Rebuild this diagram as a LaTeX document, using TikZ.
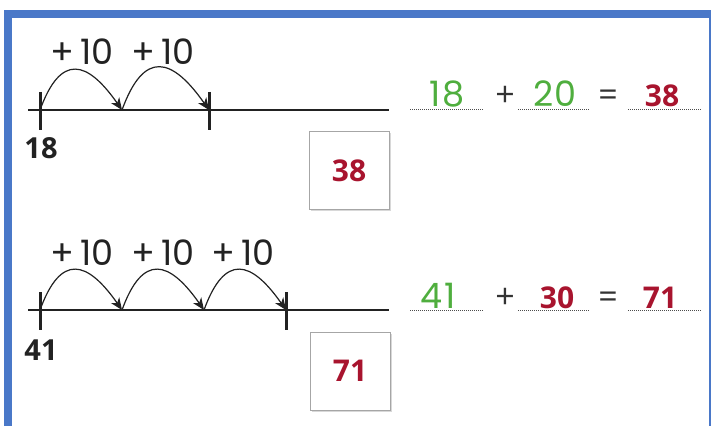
\documentclass[tikz,border=0pt]{standalone}
\usepackage{fontspec}
\setmainfont{Open Sans}
\newfontfamily\hand{Poppins}
\newfontfamily\handsp{Poppins}[LetterSpace=5]
\usetikzlibrary{arrows.meta,shadows}
\definecolor{bblue}{HTML}{4A78C8}
\definecolor{ggreen}{HTML}{4FAE3E}
\definecolor{rred}{HTML}{A8142E}
\definecolor{ink}{HTML}{222222}
\begin{document}
\begin{tikzpicture}[x=1pt,y=1pt,
  nline/.style={line width=2.4pt, ink},
  tickmark/.style={line width=3pt, ink},
  jump/.style={line width=1.2pt, ink, -{Stealth[length=12pt,width=10pt,inset=3.5pt]}, out=70, in=125, looseness=1.9},
  jl/.style={font=\hand\fontsize{35}{35}\selectfont, inner sep=0pt, text=ink},
  startnum/.style={font=\bfseries\fontsize{29}{29}\selectfont, inner sep=0pt, text=ink},
  ansbox/.style={draw=black!35, line width=1pt, fill=white, minimum width=80pt, minimum height=78pt,
     drop shadow={opacity=0.3, shadow xshift=1.5pt, shadow yshift=-1.5pt},
     font=\bfseries\fontsize{30}{30}\selectfont, text=rred},
  gnum/.style={font=\handsp\fontsize{35}{35}\selectfont, text=ggreen, inner sep=0pt, anchor=base},
  rnum/.style={font=\bfseries\fontsize{30}{30}\selectfont, text=rred, inner sep=0pt, anchor=base},
  op/.style={font=\fontsize{34}{34}\selectfont, text=black!80, inner sep=0pt, anchor=base},
  dotline/.style={line width=1pt, black!70, dash pattern=on 1pt off 1pt},
]
\useasboundingbox (0,0) rectangle (711,426);
\fill[white] (0,0) rectangle (711,426);
% blue frame
\fill[bblue] (4,416) rectangle (711,408);
\fill[bblue] (4,0) rectangle (12,416);
\fill[bblue] (709,0) rectangle (711,416);

% ---------- row 1 ----------
\coordinate (l1s) at (28,316);
\coordinate (l1e) at (389,316);
\coordinate (a0) at (40,316);
\coordinate (a1) at (122,316);
\coordinate (a2) at (209,316);
\draw[nline] (l1s) -- (l1e);
\draw[tickmark] (40,334) -- (40,296);
\draw[tickmark] (209,334) -- (209,296);
\draw[jump] (a0) to (a1);
\draw[jump] (a1) to (a2);
\node[jl] (j1a) at (82,374) {+\,10};
\node[jl] (j1b) at (163,374) {+\,10};
\node[startnum] (s1) at (41,278) {18};
\node[ansbox] (box1) at (349,255) {38};

\node[gnum] (e1a) at (447,319) {18};
\node[op] (p1) at (505,319) {+};
\node[gnum] (e1b) at (555,319) {20};
\node[op] (q1) at (608,319) {=};
\node[rnum] (e1c) at (662,319) {38};
\draw[dotline] (410,316) -- (483,316);
\draw[dotline] (518,316) -- (590,316);
\draw[dotline] (628,316) -- (702,316);

% ---------- row 2 ----------
\coordinate (l2s) at (28,116);
\coordinate (l2e) at (389,116);
\coordinate (b0) at (40,116);
\coordinate (b1) at (122,116);
\coordinate (b2) at (204,116);
\coordinate (b3) at (286,116);
\draw[nline] (l2s) -- (l2e);
\draw[tickmark] (40,134) -- (40,96);
\draw[tickmark] (286,134) -- (286,96);
\draw[jump] (b0) to (b1);
\draw[jump] (b1) to (b2);
\draw[jump] (b2) to (b3);
\node[jl] (j2a) at (82,173) {+\,10};
\node[jl] (j2b) at (163,173) {+\,10};
\node[jl] (j2c) at (243,173) {+\,10};
\node[startnum] (s2) at (41,76) {41};
\node[ansbox] (box2) at (350,55) {71};

\node[gnum] (e2a) at (438,118) {41};
\node[op] (p2) at (505,118) {+};
\node[rnum] (e2b) at (557,118) {30};
\node[op] (q2) at (608,118) {=};
\node[rnum] (e2c) at (660,118) {71};
\draw[dotline] (410,116) -- (483,116);
\draw[dotline] (518,116) -- (590,116);
\draw[dotline] (628,116) -- (702,116);
\end{tikzpicture}
\end{document}
